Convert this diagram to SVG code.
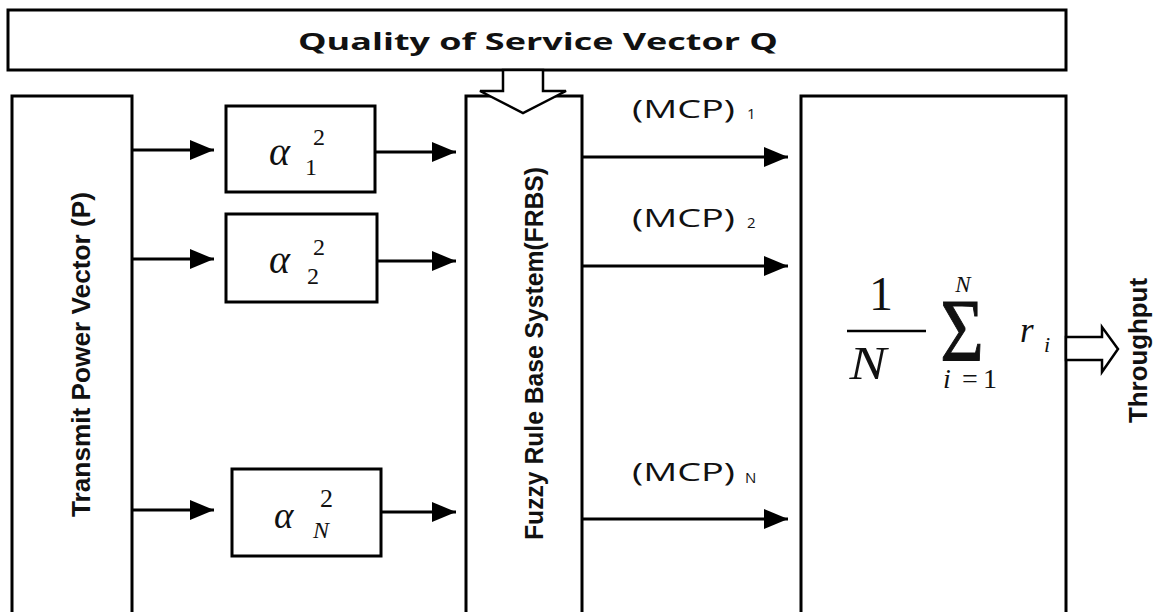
<svg xmlns="http://www.w3.org/2000/svg" width="1156" height="612" viewBox="0 0 1156 612">
<style>
.box{fill:#fff;stroke:#000;stroke-width:3}
.hol{fill:#fff;stroke:#000;stroke-width:2.5;stroke-linejoin:miter}
.con{stroke:#000;stroke-width:3;fill:none}
.title{font-family:"Open Sans","Liberation Sans",sans-serif;font-weight:700;font-size:24px;fill:#111}
.vt{font-family:"Liberation Sans",Arial,sans-serif;font-weight:700;font-size:25px;fill:#111}
.mcp{font-family:"Open Sans","Liberation Sans",sans-serif;font-size:26px;fill:#111}
.sub{font-family:"Open Sans","Liberation Sans",sans-serif;font-size:15px;fill:#111}
.m{font-family:"Liberation Serif","Times New Roman",serif;fill:#111}
.it{font-style:italic}
</style>
<defs>
<marker id="ah" markerUnits="userSpaceOnUse" markerWidth="24" markerHeight="20" refX="24" refY="10" orient="auto">
<path d="M0,0 L24,10 L0,20 z" fill="#000"/>
</marker>
</defs>
<rect width="1156" height="612" fill="#fff"/>

<g id="qos">
<rect class="box" x="8" y="10" width="1058" height="60"/>
<text class="title" x="298" y="50" textLength="480" lengthAdjust="spacingAndGlyphs">Quality of Service Vector Q</text>
</g>

<g id="transmit">
<rect class="box" x="12" y="96" width="120" height="540"/>
<text class="vt" transform="translate(90,517) rotate(-90)" textLength="325" lengthAdjust="spacingAndGlyphs">Transmit Power Vector (P)</text>
</g>

<g id="alpha1">
<rect class="box" x="226" y="106" width="149" height="86"/>
<text class="m it" x="269" y="165" font-size="40">α</text>
<text class="m" x="313" y="145" font-size="24">2</text>
<text class="m" x="305" y="175" font-size="24">1</text>
</g>

<g id="alpha2">
<rect class="box" x="226" y="214" width="151" height="88"/>
<text class="m it" x="269" y="273" font-size="40">α</text>
<text class="m" x="313" y="255" font-size="24">2</text>
<text class="m" x="307" y="284" font-size="24">2</text>
</g>

<g id="alphaN">
<rect class="box" x="232" y="469" width="149" height="87"/>
<text class="m it" x="274" y="528" font-size="37">α</text>
<text class="m" x="320" y="507" font-size="26">2</text>
<text class="m it" x="313" y="538" font-size="24">N</text>
</g>

<g id="frbs">
<rect class="box" x="466" y="96" width="116" height="540"/>
<text class="vt" transform="translate(543,540) rotate(-90)" textLength="373" lengthAdjust="spacingAndGlyphs">Fuzzy Rule Base System(FRBS)</text>
</g>

<g id="throughput-box">
<rect class="box" x="801" y="96" width="265" height="540"/>
<text class="m" x="881" y="310" font-size="48" text-anchor="middle">1</text>
<line x1="847" y1="331" x2="926" y2="331" stroke="#000" stroke-width="2.5"/>
<text class="m it" transform="translate(868,379) scale(1.2,1)" font-size="46" text-anchor="middle">N</text>
<text class="m" transform="translate(962,360) scale(0.85,1)" font-size="88" text-anchor="middle" stroke="#111" stroke-width="1">Σ</text>
<text class="m it" x="963" y="292" font-size="23" text-anchor="middle">N</text>
<text class="m" y="388" font-size="28"><tspan class="it" x="943">i</tspan><tspan x="962">=</tspan><tspan x="983">1</tspan></text>
<text class="m it" x="1020" y="342" font-size="35">r</text>
<text class="m it" x="1044" y="352" font-size="22">i</text>
</g>

<g id="connectors">
<line class="con" x1="132" y1="150" x2="214" y2="150" marker-end="url(#ah)"/>
<line class="con" x1="132" y1="259" x2="214" y2="259" marker-end="url(#ah)"/>
<line class="con" x1="132" y1="510" x2="214" y2="510" marker-end="url(#ah)"/>
<line class="con" x1="375" y1="152" x2="456" y2="152" marker-end="url(#ah)"/>
<line class="con" x1="377" y1="261" x2="456" y2="261" marker-end="url(#ah)"/>
<line class="con" x1="381" y1="512" x2="456" y2="512" marker-end="url(#ah)"/>
<line class="con" x1="582" y1="157" x2="788" y2="157" marker-end="url(#ah)"/>
<line class="con" x1="582" y1="266" x2="788" y2="266" marker-end="url(#ah)"/>
<line class="con" x1="582" y1="519" x2="788" y2="519" marker-end="url(#ah)"/>
<polygon class="hol" points="503,70 503,91 480,91 523,113 566,91 543,91 543,70"/>
<polygon class="hol" points="1066,337 1102,337 1102,327 1118,349 1102,372 1102,360 1066,360"/>
</g>
<g id="labels">
<text class="mcp" x="632" y="118" textLength="103" lengthAdjust="spacingAndGlyphs">(MCP)</text>
<text class="sub" x="747" y="119">1</text>
<text class="mcp" x="632" y="227" textLength="103" lengthAdjust="spacingAndGlyphs">(MCP)</text>
<text class="sub" x="747" y="228">2</text>
<text class="mcp" x="632" y="481" textLength="103" lengthAdjust="spacingAndGlyphs">(MCP)</text>
<text class="sub" x="745" y="483">N</text>
<text class="vt" transform="translate(1147,423) rotate(-90)" font-size="24" textLength="145" lengthAdjust="spacingAndGlyphs">Throughput</text>
</g>
</svg>
